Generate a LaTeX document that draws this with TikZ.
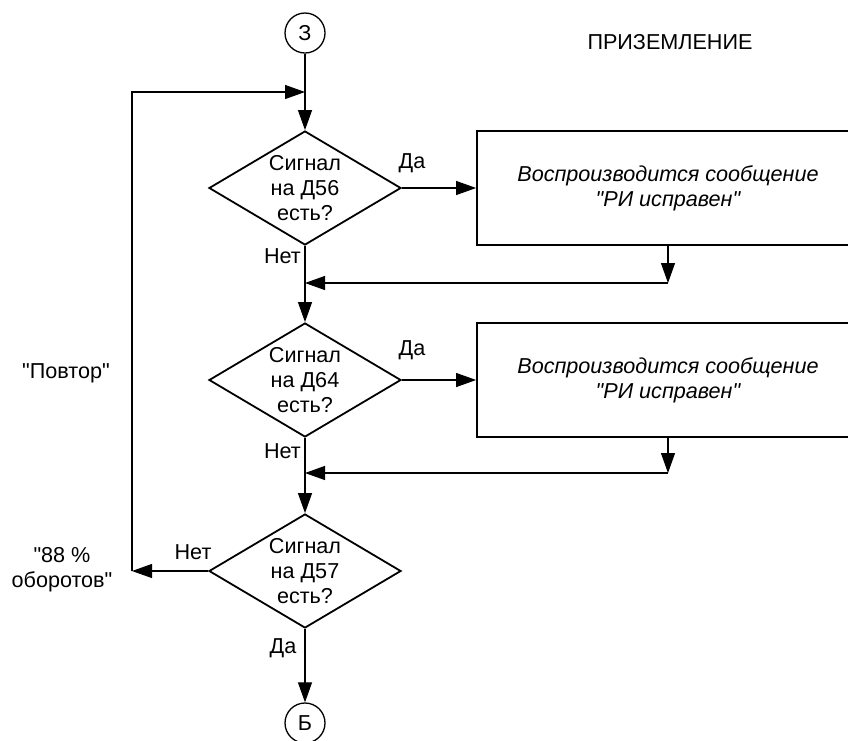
\documentclass[tikz,border=0pt]{standalone}
\usepackage{fontspec}
\setmainfont{Liberation Sans}
\usetikzlibrary{shapes.geometric,arrows.meta}
\newcommand{\qq}{\textquotedbl}
\begin{document}
\begin{tikzpicture}[x=1pt,y=-1pt,
  every node/.style={font=\fontsize{21.6}{25}\selectfont},
  conn/.style={line width=1.1pt},
  arr/.style={conn,-{Triangle[length=20pt,width=14pt]}},
  decision/.style={draw,line width=1.8pt,diamond,minimum width=192pt,minimum height=114pt,inner sep=0pt},
  procbox/.style={draw,line width=1.8pt,rectangle,minimum width=382pt,minimum height=114pt,align=center,font=\fontsize{21.6}{25}\selectfont\itshape},
  connector/.style={draw,line width=1.3pt,circle,minimum size=40pt,inner sep=0pt},
  lbl/.style={inner sep=0pt,align=center}]
\clip (0,0) rectangle (848,740);
\fill[white] (0,0) rectangle (848,740);

\node[connector] (c3) at (305,33) {З};
\node[lbl] (title) at (670,42) {ПРИЗЕМЛЕНИЕ};

\node[decision,label={[lbl]center:Сигнал\\на Д56\\есть?}] (d1) at (305,188) {};
\node[procbox] (b1) at (668,188) {Воспроизводится сообщение\\\qq РИ исправен\qq};

\node[decision,label={[lbl]center:Сигнал\\на Д64\\есть?}] (d2) at (305,380) {};
\node[procbox] (b2) at (668,380) {Воспроизводится сообщение\\\qq РИ исправен\qq};

\node[decision,label={[lbl]center:Сигнал\\на Д57\\есть?}] (d3) at (305,571) {};
\node[connector] (cb) at (305,723) {Б};

\coordinate (j0) at (305,92);
\coordinate (l1) at (132,571);
\coordinate (l2) at (132,92);
\coordinate (m1) at (305,283);
\coordinate (j1) at (668,283);
\coordinate (m2) at (305,473);
\coordinate (j2) at (668,473);

% main line
\draw[arr] (c3.south) -- (d1.north);
\draw[arr] (d1.south) -- (d2.north);
\draw[arr] (d2.south) -- (d3.north);
\draw[arr] (d3.south) -- (cb.north);

% yes branches
\draw[arr] (d1.east) -- (b1.west);
\draw[arr] (b1.south) -- (j1);
\draw[arr] (j1) -- (m1);
\draw[arr] (d2.east) -- (b2.west);
\draw[arr] (b2.south) -- (j2);
\draw[arr] (j2) -- (m2);

% loop
\draw[arr] (d3.west) -- (l1);
\draw[arr] (l1) -- (l2) -- (j0);

% labels
\node[lbl] (y1) at (412,163) {Да};
\node[lbl,anchor=east] (n1) at (301,256) {Нет};
\node[lbl] (y2) at (412,350) {Да};
\node[lbl,anchor=east] (n2) at (301,451) {Нет};
\node[lbl] (n3) at (193,552) {Нет};
\node[lbl] (y3) at (283,648) {Да};
\node[lbl] (rep) at (66,373) {\qq Повтор\qq};
\node[lbl] (rpm) at (62,570) {\qq 88 \%\\оборотов\qq};
\end{tikzpicture}
\end{document}
